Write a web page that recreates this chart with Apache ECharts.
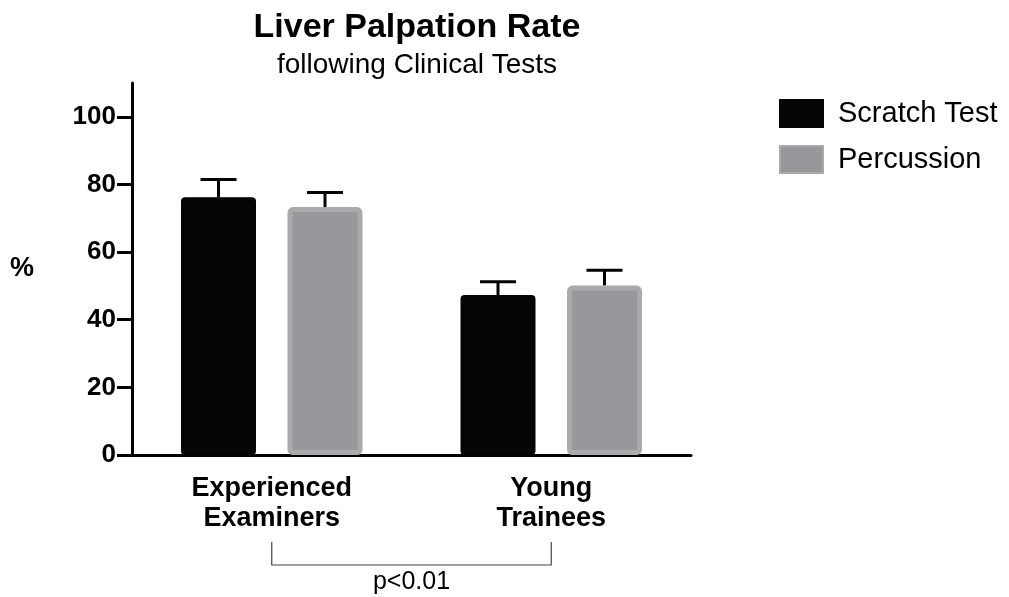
<!DOCTYPE html>
<html>
<head>
<meta charset="utf-8">
<script src="https://cdn.jsdelivr.net/npm/echarts@6/dist/echarts.min.js"></script>
<style>
  html, body { margin: 0; padding: 0; background: #fff; }
  #chart { width: 1009px; height: 597px; }
</style>
</head>
<body>
<div id="chart"></div>
<script>
// Palpation rate (%) by examiner group, mean with upper SEM whisker
const groups = ['Experienced\nExaminers', 'Young\nTrainees'];
const scratchMean = [76.2, 47.3];
const scratchErr = [5.3, 3.9];
const percussionMean = [73.3, 50.1];
const percussionErr = [4.3, 4.5];
const yTicks = [0, 20, 40, 60, 80, 100];
const significance = 'p<0.01';

const FONT = '"Liberation Sans", Arial, Helvetica, sans-serif';
const BAR_W = 75;
const BAR_GAP = 0.42;
const half = (BAR_W * 2 + BAR_W * BAR_GAP) / 2;
const offsets = [-half + BAR_W / 2, half - BAR_W / 2];

function errorData(means, errs) {
  return means.map((m, i) => [i, m, m + errs[i]]);
}

function errorSeries(name, means, errs, idx) {
  return {
    type: 'custom',
    name: name + ' SEM',
    silent: true,
    z: 1,
    data: errorData(means, errs),
    encode: { x: 0, y: [1, 2] },
    renderItem: function (params, api) {
      const base = api.coord([api.value(0), api.value(1)]);
      const top = api.coord([api.value(0), api.value(2)]);
      const x = base[0] + offsets[idx];
      const capHalf = 18;
      const style = { stroke: '#000', lineWidth: 3, fill: null };
      return {
        type: 'group',
        children: [
          { type: 'line', shape: { x1: x, y1: base[1], x2: x, y2: top[1] }, style: style },
          { type: 'line', shape: { x1: x - capHalf, y1: top[1], x2: x + capHalf, y2: top[1] }, style: style }
        ]
      };
    }
  };
}

const chart = echarts.init(document.getElementById('chart'), null, { renderer: 'canvas' });

const option = {
  animation: false,
  backgroundColor: '#fff',
  title: [
    {
      text: 'Liver Palpation Rate',
      left: 412, top: 6, textAlign: 'center',
      textStyle: { fontFamily: FONT, fontWeight: 'bold', fontSize: 34, color: '#000' }
    },
    {
      text: 'following Clinical Tests',
      left: 412, top: 46, textAlign: 'center',
      textStyle: { fontFamily: FONT, fontWeight: 'normal', fontSize: 28, color: '#000' }
    }
  ],
  legend: {
    orient: 'vertical',
    left: 774, top: 94,
    itemWidth: 43, itemHeight: 27, itemGap: 17,
    data: [
      { name: 'Scratch Test', icon: 'rect' },
      { name: 'Percussion', icon: 'rect' }
    ],
    textStyle: { fontFamily: FONT, fontSize: 29, lineHeight: 27, color: '#000', padding: [0, 0, 0, 10] }
  },
  grid: { left: 132, right: 318, top: 83, bottom: 142, containLabel: false },
  xAxis: {
    type: 'category',
    data: groups,
    axisLine: { lineStyle: { color: '#000', width: 3 } },
    axisTick: { alignWithLabel: true, length: 9, lineStyle: { color: '#000', width: 3 } },
    axisLabel: {
      margin: 19, fontFamily: FONT, fontWeight: 'bold', fontSize: 27,
      lineHeight: 30, color: '#000'
    }
  },
  yAxis: {
    type: 'value',
    min: 0, max: 110, interval: 10,
    name: '%',
    nameLocation: 'middle',
    nameRotate: 0,
    nameGap: 98,
    nameTextStyle: { fontFamily: FONT, fontWeight: 'bold', fontSize: 27, color: '#000' },
    splitLine: { show: false },
    axisLine: { show: true, lineStyle: { color: '#000', width: 3 } },
    axisTick: { show: true, length: 15, customValues: yTicks, lineStyle: { color: '#000', width: 3 } },
    axisLabel: {
      margin: 16, fontFamily: FONT, fontWeight: 'bold', fontSize: 26, color: '#000',
      customValues: yTicks
    }
  },
  series: [
    {
      name: 'Scratch Test',
      type: 'bar',
      data: scratchMean,
      barWidth: BAR_W,
      barGap: (BAR_GAP * 100) + '%',
      z: 2,
      itemStyle: { color: '#050505', borderColor: '#050505', borderWidth: 1, borderRadius: 3 }
    },
    {
      name: 'Percussion',
      type: 'bar',
      data: percussionMean,
      barWidth: BAR_W,
      z: 2,
      itemStyle: { color: '#98979c', borderColor: '#aaaaaa', borderWidth: 5, borderRadius: 3 }
    },
    errorSeries('Scratch Test', scratchMean, scratchErr, 0),
    errorSeries('Percussion', percussionMean, percussionErr, 1)
  ]
};

chart.setOption(option);

// Significance bracket between the two group positions, below the category labels
const xa = chart.convertToPixel({ xAxisIndex: 0 }, 0);
const xb = chart.convertToPixel({ xAxisIndex: 0 }, 1);
const yTop = 542, yBar = 565;
chart.setOption({
  graphic: [
    {
      type: 'polyline',
      shape: { points: [[xa, yTop], [xa, yBar], [xb, yBar], [xb, yTop]] },
      style: { stroke: '#444', lineWidth: 1.2, fill: null }
    },
    {
      type: 'text',
      x: (xa + xb) / 2, y: 570,
      style: {
        text: significance, fontFamily: FONT, fontSize: 25, fill: '#000',
        textAlign: 'center', textVerticalAlign: 'top'
      }
    }
  ]
});
</script>
</body>
</html>
